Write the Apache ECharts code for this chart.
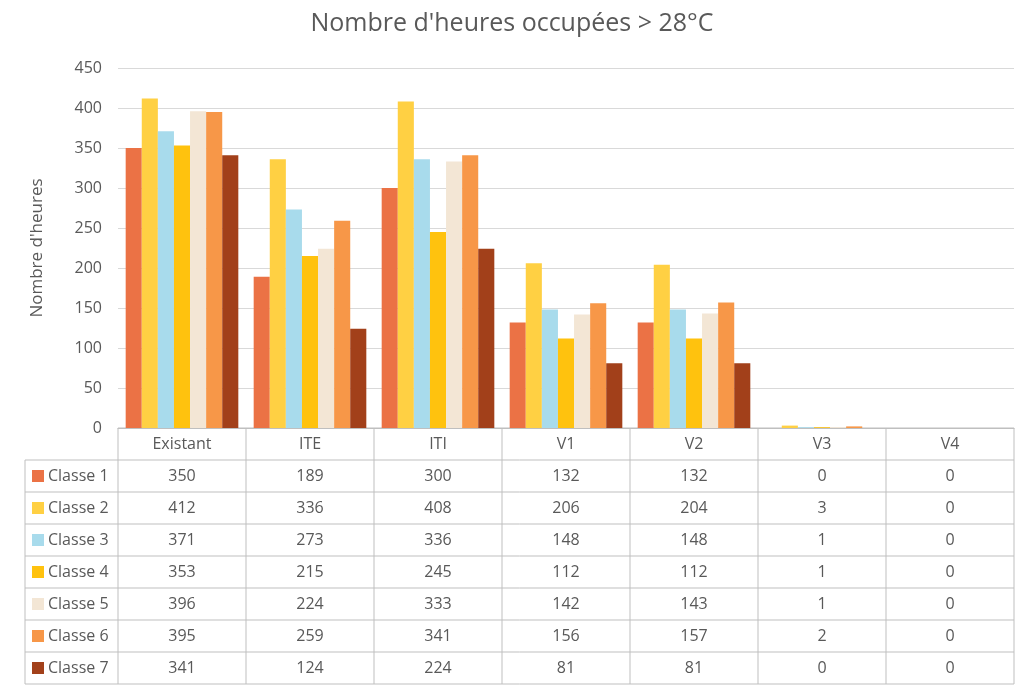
<!DOCTYPE html>
<html><head><meta charset="utf-8">
<script src="https://cdn.jsdelivr.net/npm/echarts@6/dist/echarts.min.js"></script>
<style>html,body{margin:0;padding:0;background:#fff}#c{width:1024px;height:691px}</style>
</head><body><div id="c"></div>
<script>
const categories = ['Existant','ITE','ITI','V1','V2','V3','V4'];
const seriesNames = ['Classe 1','Classe 2','Classe 3','Classe 4','Classe 5','Classe 6','Classe 7'];
const classe1 = [350,189,300,132,132,0,0];
const classe2 = [412,336,408,206,204,3,0];
const classe3 = [371,273,336,148,148,1,0];
const classe4 = [353,215,245,112,112,1,0];
const classe5 = [396,224,333,142,143,1,0];
const classe6 = [395,259,341,156,157,2,0];
const classe7 = [341,124,224,81,81,0,0];
const allSeries = [classe1,classe2,classe3,classe4,classe5,classe6,classe7];
const colors = ['#EB7245','#FFD043','#A8DBEC','#FFC20E','#F3E6D5','#F79748','#A2401A'];

const L=118, R=1014, T=68, B=428, rowH=32, tableLeft=25;
const colW=(R-L)/categories.length;
const tc='#595959', lc='#bfbfbf';
const g=[];
const nRows=seriesNames.length;
const bottom=B+rowH*(nRows+1);
// horizontal lines
g.push({type:'line',shape:{x1:L,y1:B,x2:R,y2:B},style:{stroke:lc,lineWidth:1}});
for(let r=1;r<=nRows+1;r++){const y=B+r*rowH;g.push({type:'line',shape:{x1:tableLeft,y1:y,x2:R,y2:y},style:{stroke:lc,lineWidth:1}});}
// vertical lines
g.push({type:'line',shape:{x1:tableLeft,y1:B+rowH,x2:tableLeft,y2:bottom},style:{stroke:lc,lineWidth:1}});
for(let c=0;c<=categories.length;c++){const x=L+c*colW;g.push({type:'line',shape:{x1:x,y1:B,x2:x,y2:bottom},style:{stroke:lc,lineWidth:1}});}
// header
categories.forEach((cat,c)=>g.push({type:'text',x:L+(c+0.5)*colW,y:B+rowH/2,style:{text:cat,fill:tc,font:'16px "Open Sans", sans-serif',align:'center',verticalAlign:'middle'}}));
// rows
seriesNames.forEach((n,r)=>{
 const yc=B+(r+1.5)*rowH;
 g.push({type:'rect',shape:{x:32,y:yc-6,width:12,height:12},style:{fill:colors[r]}});
 g.push({type:'text',x:48,y:yc,style:{text:n,fill:tc,font:'16px "Open Sans", sans-serif',align:'left',verticalAlign:'middle'}});
 allSeries[r].forEach((v,c)=>g.push({type:'text',x:L+(c+0.5)*colW,y:yc,style:{text:String(v),fill:tc,font:'16px "Open Sans", sans-serif',align:'center',verticalAlign:'middle'}}));
});

const chart=echarts.init(document.getElementById('c'));
chart.setOption({
 animation:false,
 title:{text:"Nombre d'heures occupées > 28°C",left:'center',top:6,textStyle:{color:tc,fontSize:25,fontWeight:'normal',fontFamily:'"Open Sans", sans-serif'}},
 grid:{left:L,right:1024-R,top:T,bottom:691-B},
 xAxis:{type:'category',data:categories,axisLabel:{show:false},axisTick:{show:false},axisLine:{lineStyle:{color:lc}}},
 yAxis:{type:'value',min:0,max:450,interval:50,name:"Nombre d'heures",nameLocation:'middle',nameGap:72,
  nameTextStyle:{color:tc,fontSize:17,fontFamily:'"Open Sans", sans-serif'},
  axisLabel:{color:tc,fontSize:16,margin:16,fontFamily:'"Open Sans", sans-serif'},
  splitLine:{lineStyle:{color:'#d9d9d9'}},axisLine:{show:false},axisTick:{show:false}},
 series:allSeries.map((d,i)=>({type:'bar',name:seriesNames[i],data:d,barGap:'0%',barCategoryGap:'12%',itemStyle:{color:colors[i]}})),
 graphic:g
});
</script></body></html>
